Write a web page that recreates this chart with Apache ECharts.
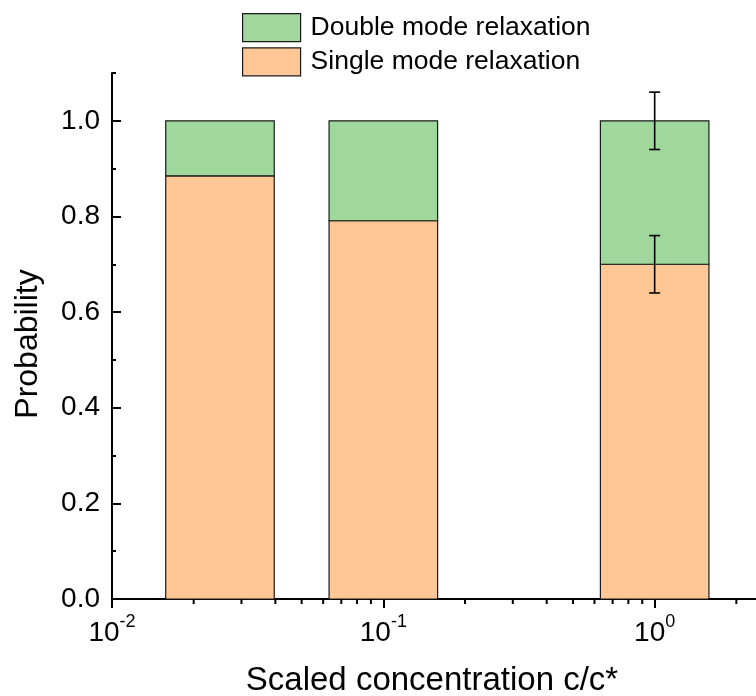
<!DOCTYPE html>
<html>
<head>
<meta charset="utf-8">
<script src="https://cdn.jsdelivr.net/npm/echarts@6/dist/echarts.min.js"></script>
<style>html,body{margin:0;padding:0;background:#fff}#c{width:756px;height:696px}</style>
</head>
<body>
<div id="c"></div>
<script>
// ---- data ----
const concentrations = [0.025, 0.1, 1];
const singleMode = [0.885, 0.791, 0.70];
const doubleMode = [0.115, 0.209, 0.30];
const singleErr = [null, null, 0.06];
const totalErr = [null, null, 0.06];
const seriesNames = ['Double mode relaxation', 'Single mode relaxation'];
const xMinorTicks = [0.02, 0.03, 0.04, 0.05, 0.06, 0.07, 0.08, 0.09,
                     0.2, 0.3, 0.4, 0.5, 0.6, 0.7, 0.8, 0.9, 2];
const yMajorTicks = [0, 0.2, 0.4, 0.6, 0.8, 1.0];
const xAxisTitle = 'Scaled concentration c/c*';
const yAxisTitle = 'Probability';

// ---- styling ----
const FONT = "'Liberation Sans', Arial, Helvetica, sans-serif";
const GREEN = '#9fd79c';
const ORANGE = '#fec795';
const HALF = Math.pow(10, 0.2); // bar half width in decades

const singleData = concentrations.map((c, i) => [c, 0, singleMode[i]]);
const doubleData = concentrations.map((c, i) => [c, singleMode[i], singleMode[i] + doubleMode[i]]);
const errData = [];
concentrations.forEach((c, i) => {
  if (singleErr[i] != null) errData.push([c, singleMode[i], singleErr[i]]);
  if (totalErr[i] != null) errData.push([c, singleMode[i] + doubleMode[i], totalErr[i]]);
});

function barItem(params, api) {
  const x = api.value(0), y0 = api.value(1), y1 = api.value(2);
  const p0 = api.coord([x / HALF, y0]);
  const p1 = api.coord([x * HALF, y1]);
  return {
    type: 'rect',
    shape: {x: p0[0], y: p1[1], width: p1[0] - p0[0], height: p0[1] - p1[1]},
    style: {fill: api.visual('color'), stroke: '#1a1a1a', lineWidth: 1.2}
  };
}
function errItem(params, api) {
  const x = api.value(0), y = api.value(1), e = api.value(2);
  const top = api.coord([x, y + e]);
  const bot = api.coord([x, y - e]);
  const cw = 5.5;
  const st = {stroke: '#000', lineWidth: 1.6};
  return {
    type: 'group',
    children: [
      {type: 'line', shape: {x1: top[0], y1: top[1], x2: bot[0], y2: bot[1]}, style: st},
      {type: 'line', shape: {x1: top[0] - cw, y1: top[1], x2: top[0] + cw, y2: top[1]}, style: st},
      {type: 'line', shape: {x1: bot[0] - cw, y1: bot[1], x2: bot[0] + cw, y2: bot[1]}, style: st}
    ]
  };
}
function minorTickItem(params, api) {
  const p = api.coord([api.value(0), 0]);
  return {
    type: 'line',
    shape: {x1: p[0], y1: p[1], x2: p[0], y2: p[1] + 5},
    style: {stroke: '#000', lineWidth: 2}
  };
}

const chart = echarts.init(document.getElementById('c'), null, {renderer: 'canvas'});
chart.setOption({
  animation: false,
  backgroundColor: '#fff',
  textStyle: {fontFamily: FONT},
  grid: {left: 112, right: -20, top: 73, bottom: 97, outerBoundsMode: 'none', containLabel: false},
  legend: {
    data: seriesNames,
    orient: 'vertical',
    left: 237, top: 8,
    itemWidth: 58, itemHeight: 28, itemGap: 5,
    icon: 'rect',
    itemStyle: {borderColor: '#1a1a1a', borderWidth: 1.2},
    textStyle: {fontSize: 26.5, fontFamily: FONT, color: '#000', padding: [0, 0, 0, 5]}
  },
  xAxis: {
    type: 'log', logBase: 10, min: 0.01, max: 2.8,
    name: xAxisTitle, nameLocation: 'middle', nameGap: 65,
    nameTextStyle: {fontSize: 33, color: '#000', fontFamily: FONT, padding: [0, 24, 0, 0]},
    axisLine: {lineStyle: {color: '#000', width: 2}},
    axisTick: {inside: false, length: 9, lineStyle: {color: '#000', width: 2}},
    minorTick: {show: false},
    splitLine: {show: false},
    axisLabel: {
      showMaxLabel: false, margin: 14, color: '#000',
      formatter: v => '{b|10}{s|' + Math.round(Math.log10(v)) + '}',
      rich: {
        b: {fontSize: 28, lineHeight: 34, verticalAlign: 'bottom', fontFamily: FONT, color: '#000'},
        s: {fontSize: 18, lineHeight: 18, verticalAlign: 'top', fontFamily: FONT, color: '#000'}
      }
    }
  },
  yAxis: [{
    type: 'value', min: 0, max: 1.1, interval: 0.2, position: 'left',
    name: yAxisTitle, nameLocation: 'middle', nameGap: 68,
    nameTextStyle: {fontSize: 32, color: '#000', fontFamily: FONT, padding: [0, 16, 0, 0]},
    axisLine: {show: true, lineStyle: {color: '#000', width: 2}},
    axisTick: {show: true, inside: true, length: 9, customValues: yMajorTicks, lineStyle: {color: '#000', width: 2}},
    axisLabel: {customValues: yMajorTicks, fontSize: 28, color: '#000', margin: 12, fontFamily: FONT,
      formatter: v => v.toFixed(1)},
    splitLine: {show: false}
  }, {
    type: 'value', min: 0, max: 1.1, interval: 0.1, position: 'left', offset: 0,
    axisLine: {show: false},
    axisTick: {show: true, inside: true, length: 4, lineStyle: {color: '#000', width: 2}},
    axisLabel: {show: false},
    splitLine: {show: false}
  }],
  series: [
    {name: seriesNames[1], type: 'custom', renderItem: barItem, data: singleData,
     itemStyle: {color: ORANGE, borderColor: '#1a1a1a', borderWidth: 1.2}, encode: {x: 0, y: [1, 2]}, z: 2},
    {name: seriesNames[0], type: 'custom', renderItem: barItem, data: doubleData,
     itemStyle: {color: GREEN, borderColor: '#1a1a1a', borderWidth: 1.2}, encode: {x: 0, y: [1, 2]}, z: 2},
    {type: 'custom', renderItem: errItem, data: errData, encode: {x: 0, y: 1}, z: 3, silent: true},
    {type: 'custom', renderItem: minorTickItem, data: xMinorTicks.map(v => [v, 0]), encode: {x: 0, y: 1}, z: 3, silent: true, clip: false}
  ]
});
</script>
</body>
</html>
